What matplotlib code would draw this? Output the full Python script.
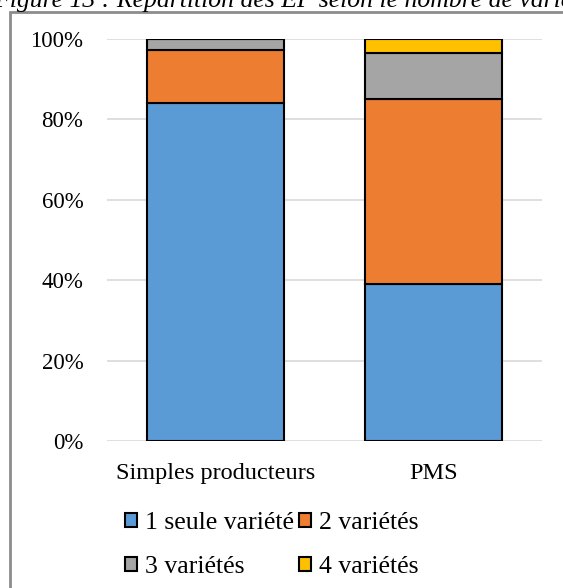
import matplotlib
matplotlib.use("Agg")
import matplotlib.pyplot as plt
import matplotlib.patches as mpatches
import numpy as np

categories = ["Simples producteurs", "PMS"]
series_names = ["1 seule variété", "2 variétés", "3 variétés", "4 variétés"]
one_var = [0.84, 0.39]
two_var = [0.133, 0.46]
three_var = [0.027, 0.114]
four_var = [0.0, 0.036]
series = [one_var, two_var, three_var, four_var]
colors = ["#5B9BD5", "#ED7D31", "#A5A5A5", "#FFC000"]
yticks = [0, 0.2, 0.4, 0.6, 0.8, 1.0]
ytick_labels = ["0%", "20%", "40%", "60%", "80%", "100%"]
title = "Figure 13 : Répartition des EP selon le nombre de variétés"

plt.rcParams['font.family'] = ['Liberation Serif', 'DejaVu Serif']

W, H = 563, 588
fig = plt.figure(figsize=(W / 100, H / 100), dpi=100)
ax = fig.add_axes([107 / W, (H - 441) / H, (542 - 107) / W, (441 - 39) / H])

x = np.arange(len(categories))
bottom = np.zeros(len(categories))
handles = []
for name, vals, c in zip(series_names, series, colors):
    vals = np.array(vals)
    b = ax.bar(x, vals, width=0.63, bottom=bottom, color=c, edgecolor="black",
               linewidth=1.5, label=name, zorder=3)
    handles.append(b)
    bottom += vals

ax.set_xlim(-0.5, 1.5)
ax.set_ylim(0, 1.0)
ax.set_yticks(yticks)
ax.set_yticklabels(ytick_labels, fontsize=16.5)
ax.set_xticks(x)
ax.set_xticklabels(categories, fontsize=17.5)
ax.tick_params(axis="both", length=0, colors="#000000")
ax.tick_params(axis="y", pad=17)
ax.tick_params(axis="x", pad=16)
ax.grid(axis="y", color="#D9D9D9", linewidth=1.2, zorder=0)
for s in ax.spines.values():
    s.set_visible(False)

order = [0, 2, 1, 3]
leg = fig.legend([handles[i] for i in order], [series_names[i] for i in order],
                 ncol=2, loc="upper left", bbox_to_anchor=(125 / W, 1 - 512 / H),
                 frameon=False, fontsize=18.5, handlelength=0.47, handleheight=0.47,
                 handletextpad=0.3, columnspacing=0.2, labelspacing=0.86,
                 borderaxespad=0, borderpad=0)
for p in leg.get_patches():
    p.set_linewidth(1.5)

# outer chart frame (partially visible)
frame = mpatches.Rectangle((10 / W, -0.05), 1.2, 1 - 12 / H + 0.05,
                           transform=fig.transFigure, fill=False,
                           edgecolor="#8C8C8C", linewidth=2.0, clip_on=False)
fig.patches.append(frame)

# cut-off caption at top
fig.text(-6 / W, 1 - 7 / H, title, fontsize=18.5, style="italic", ha="left",
         va="baseline")

fig.savefig("out.png", dpi=100)
